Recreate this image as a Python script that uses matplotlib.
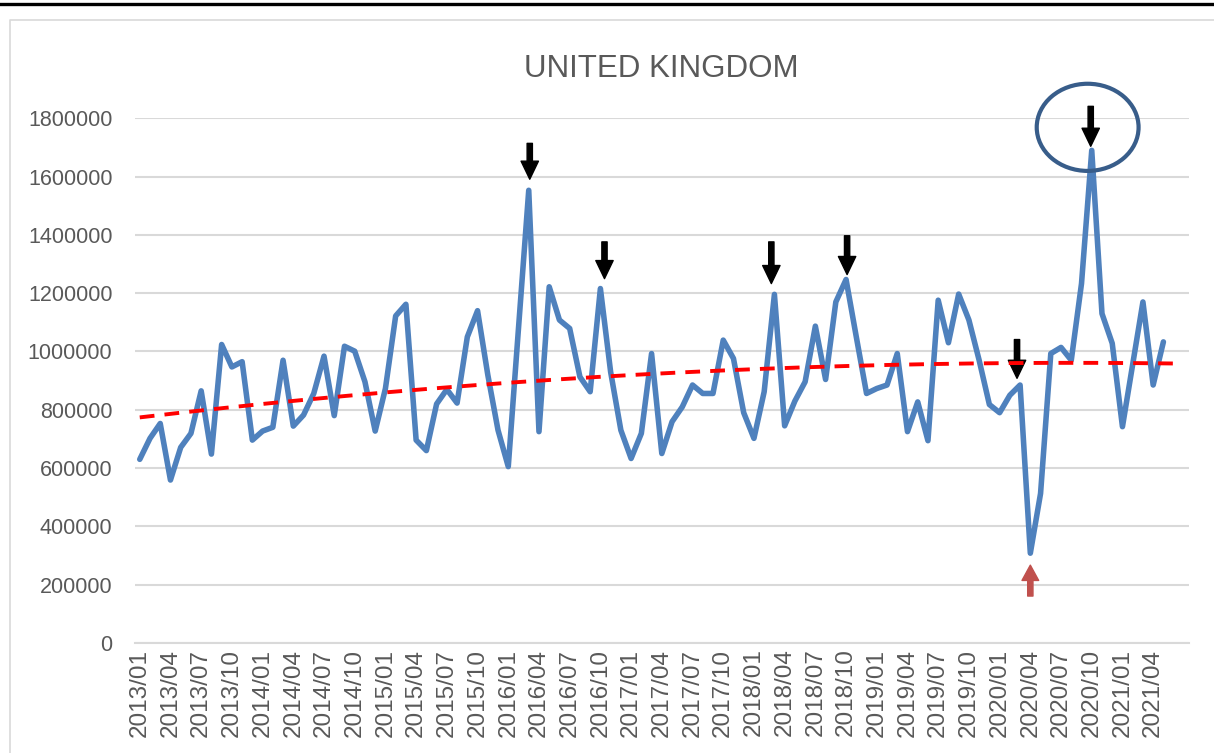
import numpy as np
import matplotlib
matplotlib.use('Agg')
import matplotlib.pyplot as plt
from matplotlib.patches import Ellipse
from matplotlib.lines import Line2D

plt.rcParams['font.family'] = ['Liberation Sans', 'DejaVu Sans']

# monthly values, 2013/01 .. 2021/05
values = [630000, 702000, 753000, 559000, 671000, 719000, 865000, 648000, 1024000, 947000,
          965000, 696000, 727000, 740000, 970000, 744000, 782000, 856000, 984000, 780000,
          1018000, 1001000, 896000, 727000, 873000, 1122000, 1162000, 696000, 660000, 820000,
          870000, 823000, 1050000, 1140000, 920000, 730000, 605000, 1080000, 1553000, 725000,
          1222000, 1108000, 1079000, 913000, 862000, 1216000, 930000, 730000, 633000, 719000,
          993000, 650000, 759000, 810000, 885000, 856000, 856000, 1039000, 976000, 790000,
          702000, 862000, 1196000, 745000, 830000, 896000, 1087000, 904000, 1170000, 1247000,
          1050000, 856000, 873000, 885000, 993000, 725000, 827000, 694000, 1176000, 1030000,
          1197000, 1108000, 970000, 818000, 790000, 850000, 885000, 308000, 513000, 993000,
          1014000, 970000, 1233000, 1690000, 1130000, 1028000, 742000, 956000, 1170000, 885000,
          1033000]

months = [f'{2013 + k // 12}/{k % 12 + 1:02d}' for k in range(len(values))]
tick_idx = list(range(0, len(values), 3))
tick_labels = [months[k] for k in tick_idx]

# marked peaks (black arrows) and the dip (red arrow)
peak_idx = [38, 45, 62, 69, 86, 93]
dip_idx = 87

x = np.arange(len(values))
y = np.array(values)

# 2nd-order polynomial trendline
coef = np.polyfit(x + 1, y, 2)
xt = np.linspace(0, 101, 200)
yt = np.polyval(coef, xt + 1)

fig = plt.figure(figsize=(12.14, 7.53), dpi=100)
ax = fig.add_axes([0.1109, 0.1461, 0.8685, 0.6968])

ax.plot(x, y, color='#4F81BD', lw=4.0, solid_joinstyle='round', solid_capstyle='round', zorder=3)
ax.plot(xt, yt, color='#FF0000', lw=2.8, dashes=(3.8, 2.6), zorder=4)

ax.set_xlim(-0.5, 102.5)
ax.set_ylim(0, 1800000)
ax.set_yticks(np.arange(0, 1800001, 200000))
ax.set_yticklabels([str(v) for v in range(0, 1800001, 200000)])
ax.set_xticks(tick_idx)
ax.set_xticklabels(tick_labels, rotation=90)
ax.tick_params(axis='y', length=0, labelsize=15.5, labelcolor='#595959', pad=16)
ax.tick_params(axis='x', length=0, labelsize=17.5, labelcolor='#595959', pad=4)
ax.grid(axis='y', color='#D9D9D9', lw=1.5)
ax.set_axisbelow(True)
for s in ['top', 'right', 'left']:
    ax.spines[s].set_visible(False)
ax.spines['bottom'].set_color('#D9D9D9')
ax.spines['bottom'].set_linewidth(1.5)

ax.set_title('UNITED KINGDOM', fontsize=22.5, color='#595959', pad=30)

# arrows
arrow_black = dict(arrowstyle='simple,head_width=1.25,head_length=1.3,tail_width=0.38',
                   color='black', shrinkA=0, shrinkB=0)
offsets = {38: (1714000, 1591000), 45: (1376000, 1250000), 62: (1376000, 1233000),
           69: (1397000, 1264000), 86: (1041000, 908000), 93: (1841000, 1704000)}
xshift = {38: 0.1, 45: 0.4, 62: -0.3, 69: 0.1, 86: -0.3, 93: -0.1}
for i in peak_idx:
    top, tip = offsets[i]
    ax.annotate('', xy=(i + xshift[i], tip), xytext=(i + xshift[i], top),
                arrowprops=arrow_black, annotation_clip=False)

ax.annotate('', xy=(dip_idx, 267000), xytext=(dip_idx, 161000),
            arrowprops=dict(arrowstyle='simple,head_width=1.2,head_length=1.1,tail_width=0.38',
                            color='#C0504D', shrinkA=0, shrinkB=0),
            annotation_clip=False)

ax.add_patch(Ellipse((92.6, 1769000), 9.95, 299000, fill=False, ec='#385D8A', lw=3,
                     clip_on=False, zorder=5))

# chart frame
fig.add_artist(Line2D([0, 1], [1 - 3.5 / 753] * 2, color='black', lw=2.4))
fig.add_artist(Line2D([10 / 1214, 10 / 1214, 1], [0, 1 - 20 / 753, 1 - 20 / 753],
                      color='#D9D9D9', lw=1.2))

fig.savefig('out.png', dpi=100)
